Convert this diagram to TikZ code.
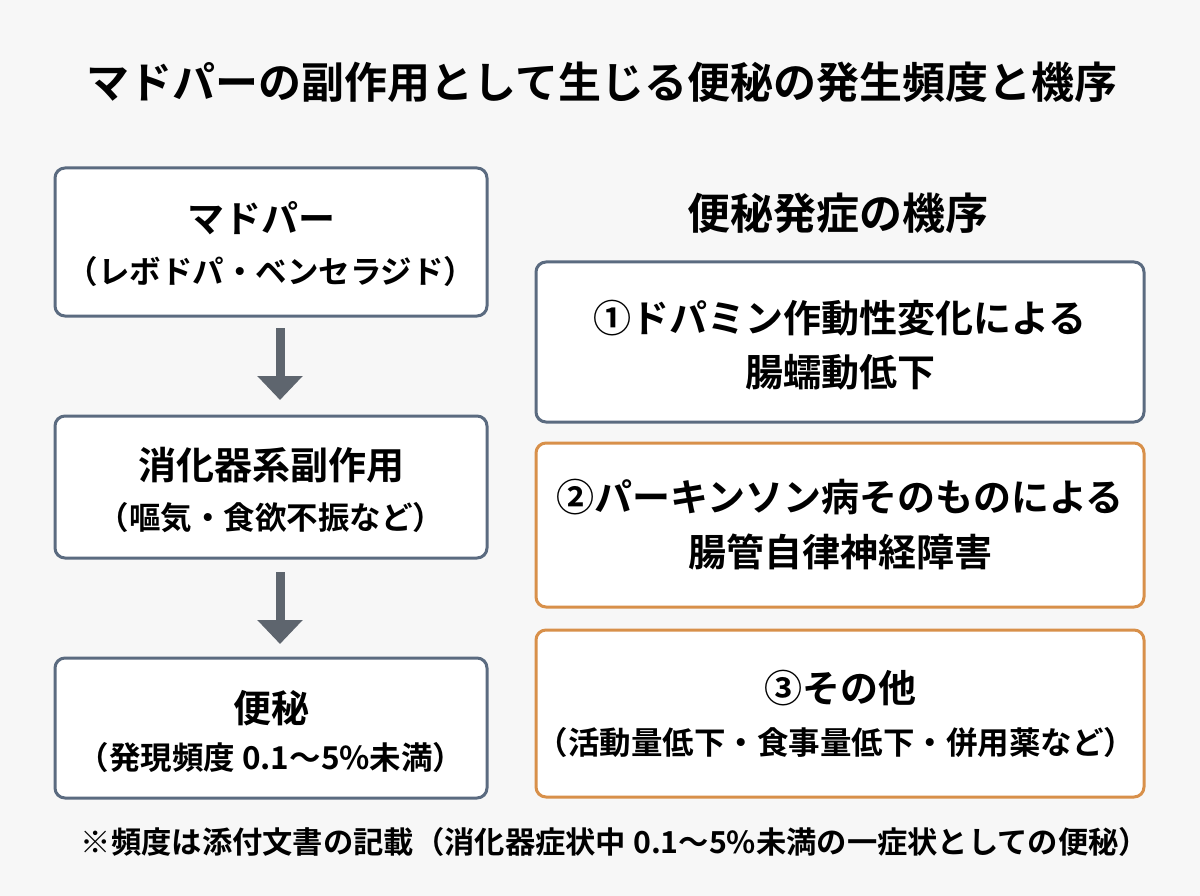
\documentclass[tikz,border=0pt]{standalone}
\usepackage{fontspec}
\setmainfont{Noto Sans CJK JP}[BoldFont={Noto Sans CJK JP Bold}]
\usetikzlibrary{arrows.meta}
\definecolor{slate}{HTML}{5B6B80}
\definecolor{amber}{HTML}{D8904A}
\definecolor{arrowgrey}{HTML}{5E656E}
\definecolor{paper}{HTML}{F7F7F7}
\tikzset{
  box/.style={draw=slate, line width=3pt, rounded corners=10pt, fill=white},
  obox/.style={box, draw=amber},
  big/.style={font=\fontsize{38}{42}\selectfont\bfseries},
  small/.style={font=\fontsize{31.5}{36}\selectfont\bfseries},
  flow/.style={-{Triangle[length=24pt,width=44pt]}, line width=9pt, arrowgrey}
}
\begin{document}
\begin{tikzpicture}[x=1pt,y=-1pt]
  % Hintergrund
  \fill[paper] (0,0) rectangle (1200,896);
  \useasboundingbox (0,0) rectangle (1200,896);

  % Titel
  \node[font=\fontsize{43}{47}\selectfont\bfseries] (title) at (602,82) {マドパーの副作用として生じる便秘の発生頻度と機序};

  % linke Spalte
  \draw[box] (55,168) rectangle (487,316);
  \node[font=\fontsize{37}{41}\selectfont\bfseries] (madopa) at (261,218) {マドパー};
  \node[small] (madopasub) at (271,272) {（レボドパ・ベンセラジド）};

  \draw[box] (55,416) rectangle (487,558);
  \node[big] (gi) at (271,465) {消化器系副作用};
  \node[small] (gisub) at (271,518) {（嘔気・食欲不振など）};

  \draw[box] (55,658) rectangle (487,798);
  \node[big] (benpi) at (271,708) {便秘};
  \node[small] (benpisub) at (271,758) {（発現頻度 0.1〜5\%未満）};

  \coordinate (a1) at (280,328);
  \coordinate (b1) at (280,400);
  \coordinate (a2) at (280,572);
  \coordinate (b2) at (280,644);
  \draw[flow] (a1) -- (b1);
  \draw[flow] (a2) -- (b2);

  % rechte Spalte
  \node[font=\fontsize{43}{47}\selectfont\bfseries] (head) at (838,213) {便秘発症の機序};

  \draw[box] (536,262) rectangle (1144,422);
  \node[big] (m1) at (840,318) {①ドパミン作動性変化による};
  \node[big] (m1b) at (840,372) {腸蠕動低下};

  \draw[obox] (536,443) rectangle (1144,607);
  \node[big] (m2) at (840,497) {②パーキンソン病そのものによる};
  \node[big] (m2b) at (840,552) {腸管自律神経障害};

  \draw[obox] (536,630) rectangle (1144,797);
  \node[big] (m3) at (840,688) {③その他};
  \node[small] (m3b) at (836,743) {（活動量低下・食事量低下・併用薬など）};

  % Fussnote
  \node[font=\fontsize{30.3}{34}\selectfont\bfseries] (note) at (615,842) {※頻度は添付文書の記載（消化器症状中 0.1〜5\%未満の一症状としての便秘）};
\end{tikzpicture}
\end{document}
